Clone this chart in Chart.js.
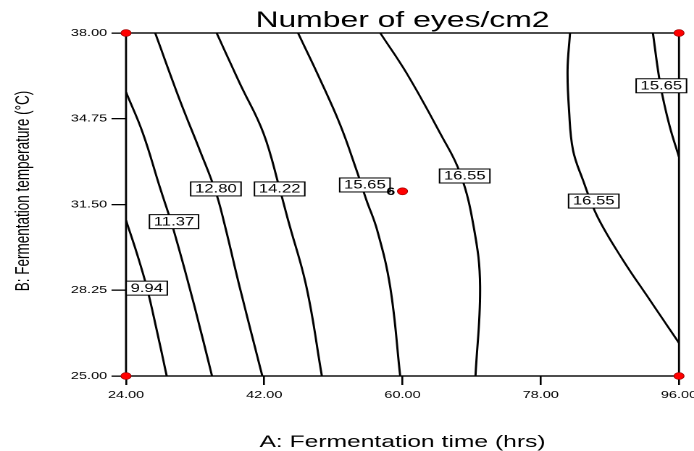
<!DOCTYPE html>
<html>
<head>
<meta charset="utf-8">
<script src="https://cdn.jsdelivr.net/npm/chart.js@4.4.0/dist/chart.umd.min.js"></script>
<style>
  html, body { margin: 0; padding: 0; background: #fff; overflow: hidden; }
  /* the source picture is stretched sideways, so draw narrow and stretch it */
  #wrap { position: relative; width: 479px; height: 451px; transform: scaleX(1.4489); transform-origin: 0 0; }
</style>
</head>
<body>
<div id="wrap"><canvas id="contour"></canvas></div>
<script>
// --- axis ticks ---
const xTicks = [24, 42, 60, 78, 96];
const yTicks = [25, 28.25, 31.5, 34.75, 38];

// --- contour lines (time hrs, temperature °C) ---
const c994X = [24, 25.4, 26.7, 28.0, 29.3];
const c994Y = [30.9, 29.66, 28.37, 26.74, 25];
const c1137X = [24, 26.2, 28.4, 30.2, 32.8, 35.2];
const c1137Y = [35.76, 34.2, 32.16, 30.53, 27.77, 25];
const c1280X = [27.8, 31.0, 33.6, 35.6, 36.7, 38.8, 41.75];
const c1280Y = [38, 35.46, 33.56, 32.05, 30.91, 28.37, 25];
const c1422X = [35.8, 38.8, 41.9, 44.05, 45.1, 47.5, 49.5];
const c1422Y = [38, 36.1, 34.2, 32.05, 30.91, 28.37, 25];
const c1565aX = [46.4, 49.3, 51.9, 54.0, 55.3, 56.7, 58.4, 59.7];
const c1565aY = [38, 36.22, 34.51, 32.81, 31.67, 30.53, 28.37, 25];
const c1655aX = [57.1, 60.55, 64.9, 67.5, 69.3, 70.1, 69.5];
const c1655aY = [38, 36.47, 34.2, 32.69, 30.6, 28.4, 25];
const c1655bX = [81.81, 81.49, 81.68, 82.2, 83.5, 85.41, 88.71, 92.23, 96];
const c1655bY = [38, 36.6, 35.08, 33.56, 32.42, 31.02, 29.39, 27.87, 26.25];
const c1565bX = [92.6, 93.6, 94.8, 96];
const c1565bY = [38, 35.99, 34.45, 33.3];

// --- contour labels ---
const labelText = ['9.94', '11.37', '12.80', '14.22', '15.65', '16.55', '16.55', '15.65'];
const labelX = [26.7, 30.25, 35.7, 44.0, 55.1, 68.1, 84.9, 93.7];
const labelY = [28.33, 30.85, 32.09, 32.09, 32.24, 32.58, 31.63, 36.0];

// --- design points (corners and centre with its run count) ---
const designX = [24, 24, 96, 96, 60];
const designY = [25, 38, 25, 38, 32.0];
const designRuns = ['', '', '', '', '6'];

const yTitle = 'B: Fermentation temperature (°C)';

const FONT = '"Liberation Sans", Arial, sans-serif';

const contours = [
    [c994X, c994Y], [c1137X, c1137Y], [c1280X, c1280Y], [c1422X, c1422Y],
    [c1565aX, c1565aY], [c1655aX, c1655aY], [c1655bX, c1655bY], [c1565bX, c1565bY]
];

const toPoints = (xs, ys) => xs.map((v, i) => ({ x: v, y: ys[i] }));

const lineSets = contours.map(([xs, ys]) => ({
    data: toPoints(xs, ys),
    showLine: true,
    borderColor: '#000',
    borderWidth: 1.5,
    tension: 0.4,
    pointRadius: 0,
    fill: false
}));

const pointSet = {
    data: toPoints(designX, designY),
    showLine: false,
    pointRadius: 3.5,
    pointBackgroundColor: '#ff0000',
    pointBorderColor: '#990000',
    pointBorderWidth: 0.6,
    clip: false
};

// frame round the plot area
const frame = {
    id: 'frame',
    beforeDatasetsDraw(chart) {
        const { ctx, chartArea: a } = chart;
        ctx.save();
        ctx.strokeStyle = '#000';
        ctx.lineWidth = 1.4;
        ctx.strokeRect(a.left, a.top, a.right - a.left, a.bottom - a.top);
        ctx.restore();
    }
};

// boxed contour labels, the run count beside the centre point, and the y title
// (the y title sits a bit above the plot centre, so it is drawn here)
const contourLabels = {
    id: 'contourLabels',
    afterDatasetsDraw(chart) {
        const { ctx, scales: { x, y } } = chart;
        ctx.save();
        ctx.font = '11.5px ' + FONT;
        ctx.textAlign = 'center';
        ctx.textBaseline = 'middle';
        labelText.forEach((t, i) => {
            const px = x.getPixelForValue(labelX[i]);
            const py = y.getPixelForValue(labelY[i]);
            const w = ctx.measureText(t).width + 6;
            const h = 14;
            ctx.fillStyle = '#fff';
            ctx.fillRect(px - w / 2, py - h / 2, w, h);
            ctx.strokeStyle = '#000';
            ctx.lineWidth = 1;
            ctx.strokeRect(px - w / 2, py - h / 2, w, h);
            ctx.fillStyle = '#000';
            ctx.fillText(t, px, py + 0.5);
        });
        ctx.font = 'bold 11px ' + FONT;
        ctx.textAlign = 'right';
        designRuns.forEach((r, i) => {
            if (!r) return;
            ctx.fillText(r, x.getPixelForValue(designX[i]) - 5, y.getPixelForValue(designY[i]) + 0.5);
        });

        ctx.font = '13.5px ' + FONT;
        ctx.textAlign = 'center';
        ctx.translate(16.5, 191);
        ctx.rotate(-Math.PI / 2);
        ctx.fillText(yTitle, 0, 0);
        ctx.restore();
    }
};

const fixBox = (w, h) => (scale) => {
    if (w !== null) scale.width = w;
    if (h !== null) scale.height = h;
    scale.paddingLeft = 0;
    scale.paddingRight = 0;
    scale.paddingTop = 0;
    scale.paddingBottom = 0;
};

new Chart(document.getElementById('contour'), {
    type: 'scatter',
    data: { datasets: [...lineSets, pointSet] },
    options: {
        responsive: true,
        maintainAspectRatio: false,
        animation: false,
        devicePixelRatio: 2,
        layout: { padding: { top: 0, left: 0, right: 10.37, bottom: 0 } },
        scales: {
            x: {
                type: 'linear',
                min: 24,
                max: 96,
                afterBuildTicks: (s) => { s.ticks = xTicks.map(v => ({ value: v })); },
                afterFit: fixBox(null, 75),
                ticks: {
                    color: '#000',
                    font: { family: FONT, size: 10 },
                    padding: 4,
                    maxRotation: 0,
                    callback: (v) => Number(v).toFixed(2)
                },
                grid: { drawOnChartArea: false, color: '#000', tickLength: 9, lineWidth: 1.3 },
                border: { display: false },
                title: {
                    display: true,
                    text: 'A: Fermentation time (hrs)',
                    color: '#000',
                    font: { family: FONT, size: 17, lineHeight: 1 },
                    padding: { top: 0, bottom: 0 }
                }
            },
            y: {
                type: 'linear',
                min: 25,
                max: 38,
                afterBuildTicks: (s) => { s.ticks = yTicks.map(v => ({ value: v })); },
                afterFit: fixBox(86.96, null),
                ticks: {
                    color: '#000',
                    font: { family: FONT, size: 10 },
                    padding: 3,
                    callback: (v) => Number(v).toFixed(2)
                },
                grid: { drawOnChartArea: false, color: '#000', tickLength: 10, lineWidth: 1.3 },
                border: { display: false },
                title: { display: false }
            }
        },
        plugins: {
            legend: { display: false },
            tooltip: { enabled: false },
            title: {
                display: true,
                text: 'Number of eyes/cm2',
                color: '#000',
                fullSize: false,
                font: { family: FONT, size: 22, weight: 'normal', lineHeight: 1 },
                padding: { top: 10, bottom: 1 }
            }
        }
    },
    plugins: [frame, contourLabels]
});
</script>
</body>
</html>
